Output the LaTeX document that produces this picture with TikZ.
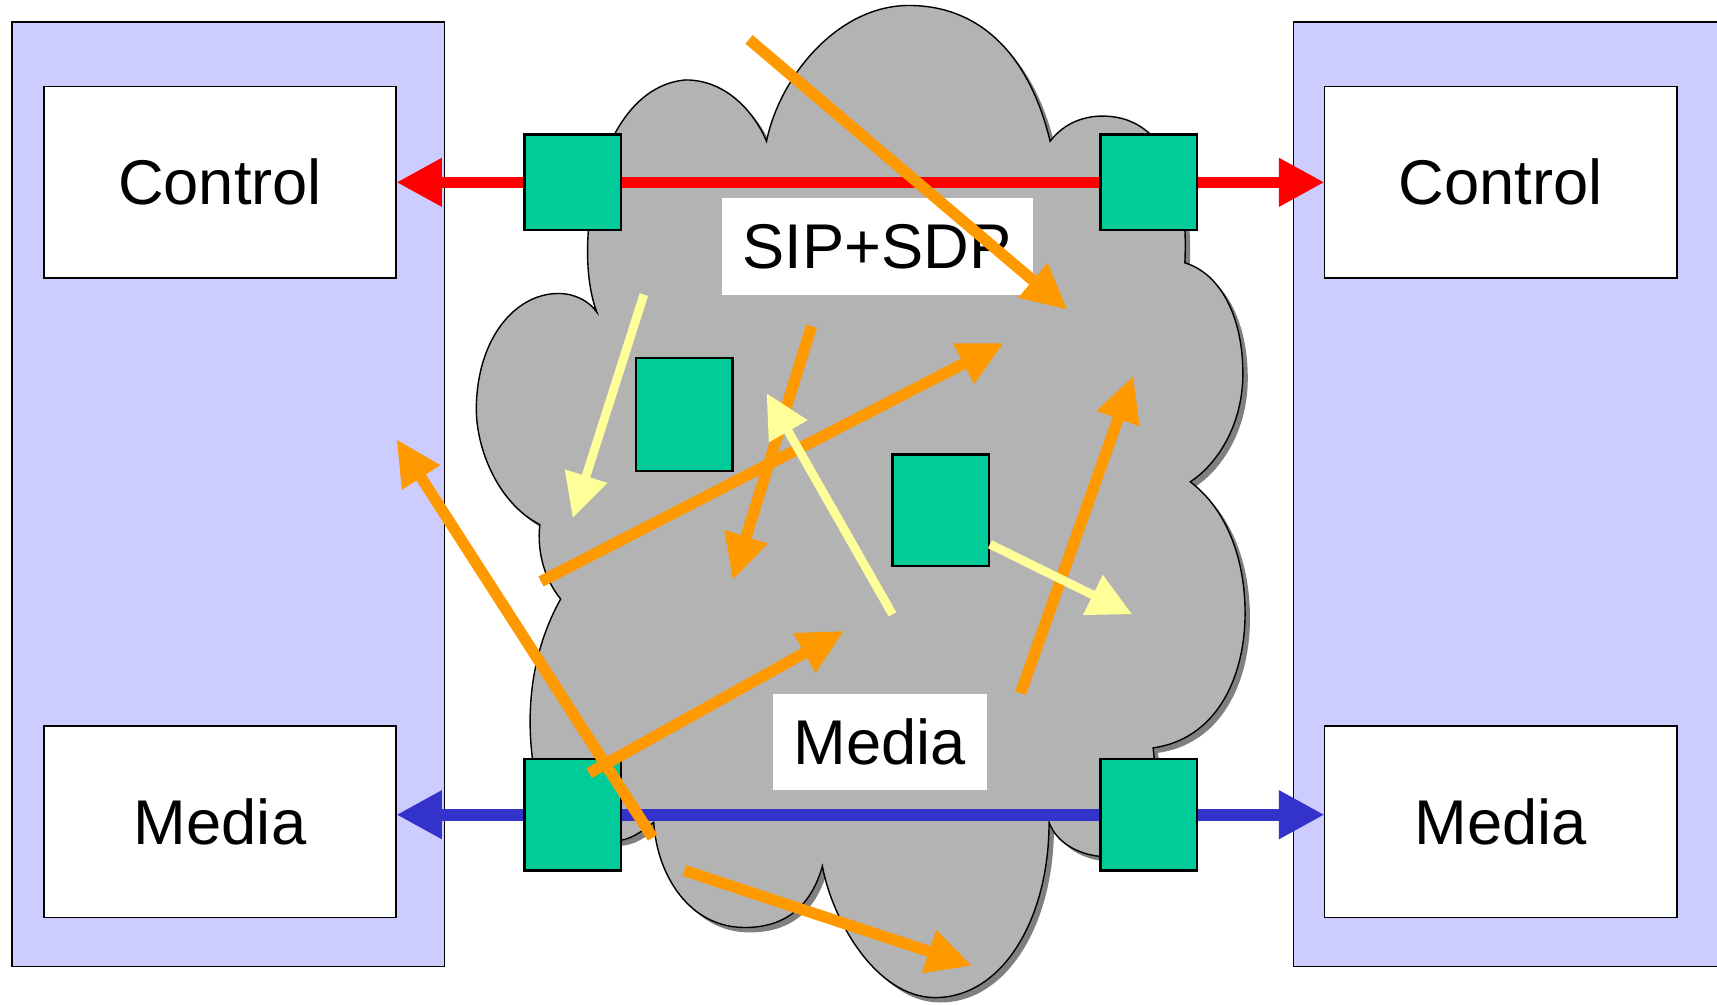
\documentclass[tikz,border=0pt]{standalone}
\usepackage{fontspec}
\setmainfont{Liberation Sans}
\usetikzlibrary{arrows.meta,positioning}

\definecolor{panelblue}{HTML}{CCCCFF}
\definecolor{gwgreen}{HTML}{00CC99}
\definecolor{cloudgray}{HTML}{B3B3B3}
\definecolor{cloudshadow}{HTML}{808080}
\definecolor{flowOrange}{HTML}{FF9900}
\definecolor{flowYellow}{HTML}{FFFF99}
\definecolor{ctrlred}{HTML}{FF0000}
\definecolor{mediablue}{HTML}{3333CC}

% outline of the network cloud
\newcommand{\cloudoutline}{
  (545,285) .. controls (522,225) and (545,80) .. (626,73)
  .. controls (665,73) and (690,105) .. (700,129)
  .. controls (712,70) and (765,5) .. (830,5)
  .. controls (895,5) and (940,50) .. (959,129)
  .. controls (972,112) and (990,106) .. (1007,106)
  .. controls (1060,106) and (1086,160) .. (1082,240)
  .. controls (1115,250) and (1135,290) .. (1135,341)
  .. controls (1135,390) and (1110,425) .. (1087,440)
  .. controls (1120,465) and (1137,510) .. (1137,560)
  .. controls (1137,620) and (1110,675) .. (1053,683)
  .. controls (1060,730) and (1040,785) .. (1004,782)
  .. controls (985,780) and (965,770) .. (958,751)
  .. controls (958,840) and (915,911) .. (854,911)
  .. controls (800,911) and (760,840) .. (751,791)
  .. controls (740,830) and (715,847) .. (680,847)
  .. controls (630,847) and (600,800) .. (597,751)
  .. controls (585,760) and (575,768) .. (560,768)
  .. controls (520,768) and (486,740) .. (486,691)
  .. controls (480,640) and (488,590) .. (512,547)
  .. controls (498,530) and (490,505) .. (493,479)
  .. controls (455,460) and (435,410) .. (435,374)
  .. controls (435,310) and (470,268) .. (510,268)
  .. controls (525,268) and (538,275) .. (545,285) -- cycle
}

\tikzset{
  panel/.style={draw=black,line width=0.4pt,fill=panelblue,minimum width=4.325cm,minimum height=9.45cm,inner sep=0pt,outer sep=0pt},
  endbox/.style={draw=black,line width=0.5pt,fill=white,minimum width=3.526cm,minimum height=1.916cm,inner sep=0pt,outer sep=0pt,font=\fontsize{18}{22}\selectfont},
  gw/.style={draw=black,line width=0.7pt,fill=gwgreen,minimum width=0.964cm,inner sep=0pt,outer sep=0pt},
  tag/.style={fill=white,inner sep=0pt,outer sep=0pt,font=\fontsize{18}{22}\selectfont},
  ctrlline/.style={draw=ctrlred,line width=3.3pt,{Triangle[length=13pt,width=13pt]}-{Triangle[length=13pt,width=13pt]}},
  mediapath/.style={draw=mediablue,line width=3.3pt,{Triangle[length=13pt,width=13pt]}-{Triangle[length=13pt,width=13pt]}},
  flowO/.style={draw=flowOrange,line width=3.2pt,-{Triangle[length=13pt,width=12pt]}},
  flowY/.style={draw=flowYellow,line width=2.5pt,-{Triangle[length=12.5pt,width=12pt]}}
}

\begin{document}
\begin{tikzpicture}[x=0.01095cm,y=-0.01095cm]
\useasboundingbox (0,0) rectangle (1568,917);
\clip (0,0) rectangle (1568,917);

% end hosts
\node[panel] (hostL) at (208.5,451.5) {};
\node[panel] (hostR) at (1378.5,451.5) {};
\node[endbox] (ctrlL) at (201,166.5) {Control};
\node[endbox] (mediaL) at (201,750.5) {Media};
\node[endbox] (ctrlR) at (1370.5,166.5) {Control};
\node[endbox] (mediaR) at (1370.5,750.5) {Media};

% network cloud
\fill[cloudshadow,shift={(4.5,4.5)}] \cloudoutline;
\draw[fill=cloudgray,line width=0.4pt] \cloudoutline;

% signalling and media paths
\coordinate (ctrlY) at (523,166.5);
\coordinate (mediaY) at (523,744);
\draw[ctrlline] (ctrlL.east |- ctrlY) -- (ctrlR.west |- ctrlY);
\draw[mediapath] (mediaL.east |- mediaY) -- (mediaR.west |- mediaY);

% boxes in the network
\node[gw,minimum height=0.953cm] (gwTL) at (523,166.5) {};
\node[gw,minimum height=0.953cm] (gwTR) at (1049,166.5) {};
\node[gw,minimum height=1.117cm] (gwBL) at (523,744) {};
\node[gw,minimum height=1.117cm] (gwBR) at (1049,744) {};
\node[gw,minimum height=1.128cm] (gwIn1) at (625,378.5) {};
\node[gw,minimum height=1.117cm] (gwIn2) at (859,466) {};

\node[tag,minimum width=3.11cm,minimum height=0.964cm] (sipLbl) at (801,225) {SIP+SDP};
\node[tag,minimum width=2.135cm,minimum height=0.953cm] (mediaLbl) at (803.5,677.5) {Media};

% traffic
\coordinate (o1a) at (684,36);   \coordinate (o1b) at (975,283);
\coordinate (o2a) at (741,298);  \coordinate (o2b) at (669,530);
\coordinate (o3a) at (494,531);  \coordinate (o3b) at (917,313);
\coordinate (o4a) at (596,765);  \coordinate (o4b) at (362,401);
\coordinate (o5a) at (538,706);  \coordinate (o5b) at (771,576);
\coordinate (o6a) at (932,633);  \coordinate (o6b) at (1035,343);
\coordinate (o7a) at (625,795);  \coordinate (o7b) at (888,882);
\coordinate (y1a) at (588,269);  \coordinate (y1b) at (523,473);
\coordinate (y2a) at (815,561);  \coordinate (y2b) at (700,359);
\coordinate (y3a) at (904,497);  \coordinate (y3b) at (1034,561);

\foreach \i in {1,...,7}
  \draw[flowO] (o\i a) -- (o\i b);
\foreach \i in {1,2,3}
  \draw[flowY] (y\i a) -- (y\i b);
\end{tikzpicture}
\end{document}
